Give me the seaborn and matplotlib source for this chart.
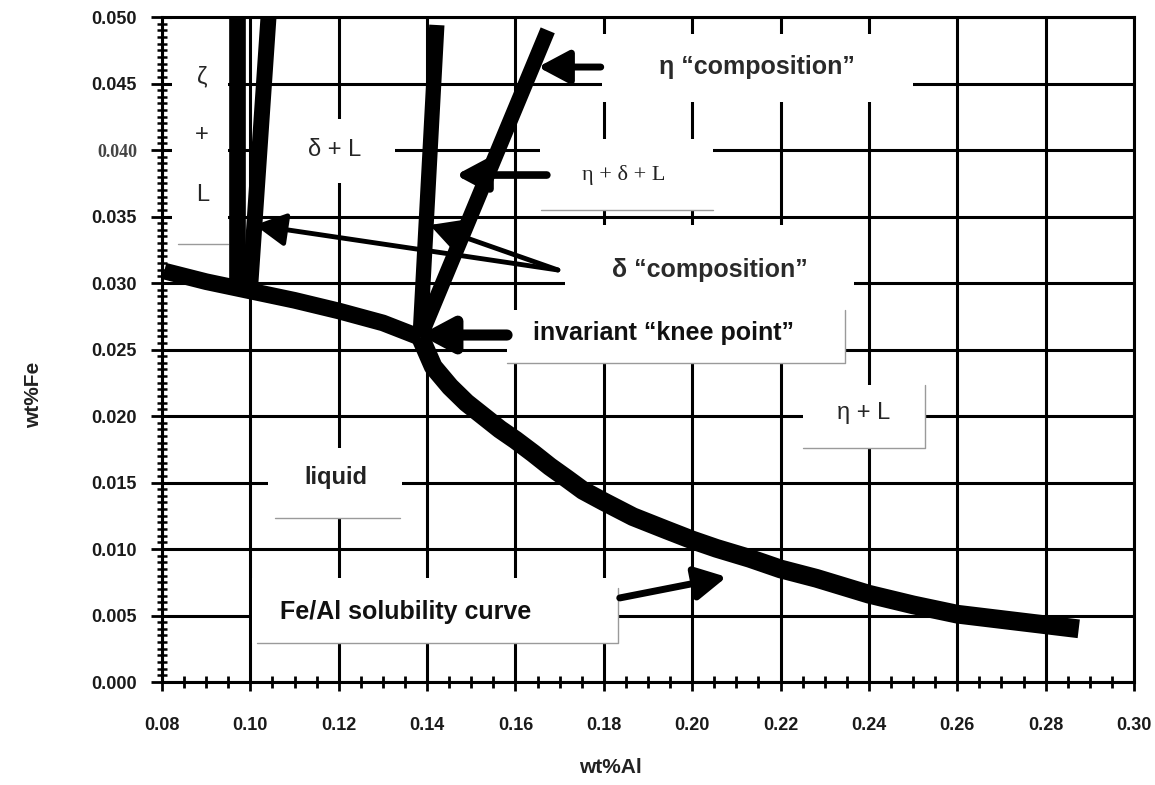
import matplotlib
matplotlib.use("Agg")
import matplotlib.pyplot as plt
import seaborn as sns
from matplotlib.patches import Rectangle
from matplotlib.ticker import MultipleLocator

# Fe/Al solubility curve (wt%Al, wt%Fe)
al_left = [0.0805, 0.090, 0.100, 0.110, 0.120, 0.130, 0.1385]
fe_left = [0.0309, 0.0301, 0.0294, 0.0287, 0.0279, 0.0270, 0.0259]
al_right = [0.1385, 0.1414, 0.1452, 0.1489, 0.1527, 0.1565, 0.1600, 0.1640,
            0.1678, 0.1716, 0.1753, 0.1800, 0.1866, 0.1942, 0.2000, 0.2055,
            0.2130, 0.2200, 0.2281, 0.2400, 0.2500, 0.2600, 0.2700, 0.2800, 0.2875]
fe_right = [0.0259, 0.0237, 0.0222, 0.0210, 0.0200, 0.0190, 0.0182, 0.0172,
            0.0162, 0.0153, 0.0144, 0.01356, 0.01243, 0.01143, 0.01068, 0.01005,
            0.0093, 0.0085, 0.0078, 0.0066, 0.0058, 0.0051, 0.0047, 0.0043, 0.0040]

# phase boundaries running up from the curve
zeta_al = [0.0969, 0.0969]
zeta_fe = [0.0297, 0.0505]
delta_al = [0.0999, 0.1042]
delta_fe = [0.0295, 0.0505]
knee_al = [0.1384, 0.1422]
knee_fe = [0.0259, 0.0494]
eta_al = [0.1384, 0.1673]
eta_fe = [0.0259, 0.0490]

x_ticks = [0.08, 0.10, 0.12, 0.14, 0.16, 0.18, 0.20, 0.22, 0.24, 0.26, 0.28, 0.30]
x_tick_labels = ["0.08", "0.10", "0.12", "0.14", "0.16", "0.18", "0.20",
                 "0.22", "0.24", "0.26", "0.28", "0.30"]
y_ticks = [0.000, 0.005, 0.010, 0.015, 0.020, 0.025, 0.030, 0.035, 0.040, 0.045, 0.050]
y_tick_labels = ["0.000", "0.005", "0.010", "0.015", "0.020", "0.025",
                 "0.030", "0.035", "0.040", "0.045", "0.050"]

sns.set_style("ticks")
plt.rcParams["font.family"] = ["Liberation Sans", "DejaVu Sans"]

fig = plt.figure(figsize=(11.55, 7.85), dpi=100)
ax = fig.add_axes([0.1403, 0.1312, 0.8415, 0.8471])

# thick black phase lines
sns.lineplot(x=al_left, y=fe_left, ax=ax, color="black", lw=12, sort=False,
             estimator=None, solid_capstyle="butt", zorder=2)
sns.lineplot(x=al_right, y=fe_right, ax=ax, color="black", lw=13.5, sort=False,
             estimator=None, solid_capstyle="butt", solid_joinstyle="round", zorder=2)
for xs, ys, w in [(zeta_al, zeta_fe, 12), (delta_al, delta_fe, 11.5),
                  (knee_al, knee_fe, 11), (eta_al, eta_fe, 11)]:
    sns.lineplot(x=xs, y=ys, ax=ax, color="black", lw=w, sort=False,
                 estimator=None, solid_capstyle="butt", zorder=2)

ax.set_xlim(0.08, 0.30)
ax.set_ylim(0.0, 0.05)

# grid and ticks
ax.set_axisbelow(True)
ax.set_xticks(x_ticks, labels=x_tick_labels)
ax.set_yticks(y_ticks, labels=y_tick_labels)
ax.xaxis.set_minor_locator(MultipleLocator(0.005))
ax.yaxis.set_minor_locator(MultipleLocator(0.0005))
ax.grid(True, which="major", color="black", lw=2.2)
ax.tick_params(which="both", bottom=True, left=True, top=False, right=False,
               color="black")
ax.tick_params(axis="x", which="major", direction="inout", length=13, width=2,
               pad=19, labelsize=13)
ax.tick_params(axis="x", which="minor", direction="inout", length=9, width=2)
ax.tick_params(axis="y", which="major", direction="inout", length=16, width=2,
               pad=10, labelsize=13)
ax.tick_params(axis="y", which="minor", direction="inout", length=7, width=1.8)
for lab in ax.get_xticklabels() + ax.get_yticklabels():
    lab.set_fontweight("bold")
    lab.set_color("#1a1a1a")
for lab in ax.get_yticklabels():
    if lab.get_text() == "0.040":
        lab.set_family("Liberation Serif")
        lab.set_color("#444444")
for s in ax.spines.values():
    s.set_visible(True)
    s.set_color("black")
    s.set_linewidth(2.2)

ax.set_xlabel("wt%Al", fontsize=15, fontweight="bold", color="#222222")
ax.set_ylabel("wt%Fe", fontsize=15, fontweight="bold", color="#222222")
ax.xaxis.set_label_coords(0.461, -0.115)
ax.yaxis.set_label_coords(-0.122, 0.432)

# white label boxes that hide the grid: (x0, y0, x1, y1)
boxes = [(0.0823, 0.0329, 0.0949, 0.0500), (0.1038, 0.0375, 0.1327, 0.0423),
         (0.1796, 0.0436, 0.2499, 0.0487), (0.1655, 0.0355, 0.2047, 0.0408),
         (0.1712, 0.0274, 0.2366, 0.0344), (0.1581, 0.0240, 0.2345, 0.0280),
         (0.2250, 0.0176, 0.2526, 0.0223), (0.1040, 0.0123, 0.1343, 0.0176),
         (0.1004, 0.0029, 0.1832, 0.0078)]
for x0, y0, x1, y1 in boxes:
    ax.add_patch(Rectangle((x0, y0), x1 - x0, y1 - y0, facecolor="white",
                           edgecolor="none", zorder=1))

# faint grey box edges
shadow = [([0.0836, 0.0949], [0.0329, 0.0329]), ([0.1658, 0.2047], [0.0355, 0.0355]),
          ([0.1581, 0.2345, 0.2345], [0.0240, 0.0240, 0.0280]),
          ([0.2250, 0.2526, 0.2526], [0.0176, 0.0176, 0.0223]),
          ([0.1056, 0.1339], [0.0123, 0.0123]),
          ([0.1015, 0.1832, 0.1832], [0.0029, 0.0029, 0.0071])]
for xs, ys in shadow:
    ax.plot(xs, ys, color="#9a9a9a", lw=1.0, zorder=1.2)

# labels
ax.text(0.0891, 0.0455, "ζ", fontsize=17, ha="center", va="center", zorder=3)
ax.text(0.0891, 0.0411, "+", fontsize=17, ha="center", va="center", zorder=3)
ax.text(0.0891, 0.0366, "L", fontsize=17, ha="center", va="center", zorder=3)
ax.text(0.1191, 0.0400, "δ + L", fontsize=17, ha="center", va="center", zorder=3)
ax.text(0.2147, 0.04624, "η “composition”", fontsize=18, fontweight="bold",
        ha="center", va="center", zorder=3, color="#2a2a2a")
ax.text(0.1845, 0.03812, "η + δ + L", fontsize=16, family="Liberation Serif",
        ha="center", va="center", zorder=3, color="#222222")
ax.text(0.2040, 0.03098, "δ “composition”", fontsize=18, fontweight="bold",
        ha="center", va="center", zorder=3, color="#2a2a2a")
ax.text(0.1936, 0.02624, "invariant “knee point”", fontsize=18, fontweight="bold",
        ha="center", va="center", zorder=3, color="#111111")
ax.text(0.2388, 0.02023, "η + L", fontsize=17, ha="center", va="center", zorder=3)
ax.text(0.1194, 0.01534, "liquid", fontsize=17, fontweight="bold",
        ha="center", va="center", zorder=3, color="#222222")
ax.text(0.1352, 0.00526, "Fe/Al solubility curve", fontsize=18, fontweight="bold",
        ha="center", va="center", zorder=3, color="#111111")

# pointer arrows: (tail, tip, shaft width)
arrows = [((0.1793, 0.04624), (0.1651, 0.04624), 5),
          ((0.1671, 0.03812), (0.1465, 0.03812), 5.5),
          ((0.1696, 0.03098), (0.1010, 0.03436), 3.5),
          ((0.1696, 0.03098), (0.1406, 0.03436), 3.5),
          ((0.1581, 0.02609), (0.1384, 0.02609), 8),
          ((0.1836, 0.00632), (0.2078, 0.00790), 5)]
for tail, tip, w in arrows:
    ax.annotate("", xy=tip, xytext=tail, zorder=2.5,
                arrowprops=dict(arrowstyle="-|>,head_length=0.75,head_width=0.4",
                                mutation_scale=25, lw=w, color="black",
                                shrinkA=0, shrinkB=0))

fig.savefig("out.png", dpi=100)
